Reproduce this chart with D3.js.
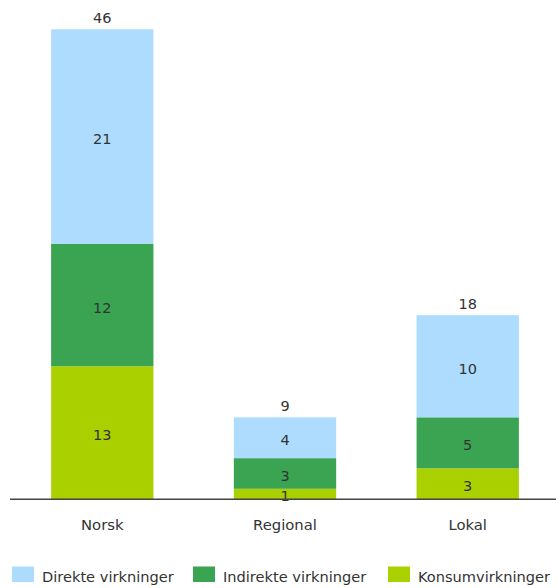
<!DOCTYPE html>
<html>
<head>
<meta charset="utf-8">
<script src="https://cdn.jsdelivr.net/npm/d3@7/dist/d3.min.js"></script>
<style>
  html, body { margin: 0; padding: 0; background: #fff; }
  svg text { font-family: "DejaVu Sans", Verdana, sans-serif; fill: #333; }
</style>
</head>
<body>
<svg id="chart" width="556" height="588"></svg>
<script>
// Economic effects by level, stacked by effect type
const categories = ["Norsk", "Regional", "Lokal"];
const seriesNames = ["Konsumvirkninger", "Indirekte virkninger", "Direkte virkninger"];
const konsum = [13, 1, 3];
const indirekte = [12, 3, 5];
const direkte = [21, 4, 10];
const totals = [46, 9, 18];
const legendOrder = ["Direkte virkninger", "Indirekte virkninger", "Konsumvirkninger"];

const colors = {
  "Direkte virkninger": "#addcfe",
  "Indirekte virkninger": "#3aa452",
  "Konsumvirkninger": "#abd000"
};

const rows = categories.map((c, i) => ({
  cat: c,
  "Konsumvirkninger": konsum[i],
  "Indirekte virkninger": indirekte[i],
  "Direkte virkninger": direkte[i],
  total: totals[i]
}));

const svg = d3.select("#chart");
const baseY = 499;
const valueFont = 14.5;

const x = d3.scaleBand().domain(categories).range([10, 560]).paddingInner(0.44).paddingOuter(0.225);
const y = d3.scaleLinear().domain([0, 46]).range([baseY, 29.3]);

const stack = d3.stack().keys(seriesNames);
const layers = stack(rows);

const g = svg.append("g");
layers.forEach(layer => {
  const key = layer.key;
  const lg = g.append("g");
  lg.selectAll("rect").data(layer).join("rect")
    .attr("x", d => x(d.data.cat))
    .attr("width", x.bandwidth())
    .attr("y", d => y(d[1]))
    .attr("height", d => y(d[0]) - y(d[1]))
    .attr("fill", colors[key]);
  lg.selectAll("text").data(layer).join("text")
    .attr("x", d => x(d.data.cat) + x.bandwidth() / 2)
    .attr("y", d => (y(d[0]) + y(d[1])) / 2 + 2.3)
    .attr("dy", "0.36em")
    .attr("text-anchor", "middle")
    .attr("font-size", valueFont)
    .text(d => d.data[key]);
});

// totals above bars
g.selectAll("text.total").data(rows).join("text")
  .attr("class", "total")
  .attr("x", d => x(d.cat) + x.bandwidth() / 2)
  .attr("y", d => y(d["Konsumvirkninger"] + d["Indirekte virkninger"] + d["Direkte virkninger"]) - 6.5)
  .attr("text-anchor", "middle")
  .attr("font-size", valueFont)
  .text(d => d.total);

// category axis
const axis = svg.append("g").attr("transform", `translate(0,${baseY})`)
  .call(d3.axisBottom(x).tickSize(0).tickPadding(0));
axis.select(".domain").remove();
axis.selectAll("text")
  .attr("dy", null)
  .attr("y", 31)
  .attr("font-size", 14.8)
  .attr("font-family", '"DejaVu Sans", Verdana, sans-serif')
  .attr("fill", "#333");
axis.append("line")
  .attr("x1", 10).attr("x2", 556)
  .attr("y1", 0.3).attr("y2", 0.3)
  .attr("stroke", "#444").attr("stroke-width", 1.6);

// legend
const legendX = [12, 193, 388];
const leg = svg.append("g");
legendOrder.forEach((name, i) => {
  leg.append("rect")
    .attr("x", legendX[i]).attr("y", 566.5).attr("width", 22).attr("height", 15.5)
    .attr("fill", colors[name]);
  leg.append("text")
    .attr("x", legendX[i] + 30).attr("y", 582)
    .attr("font-size", 14.6)
    .text(name);
});
</script>
</body>
</html>
